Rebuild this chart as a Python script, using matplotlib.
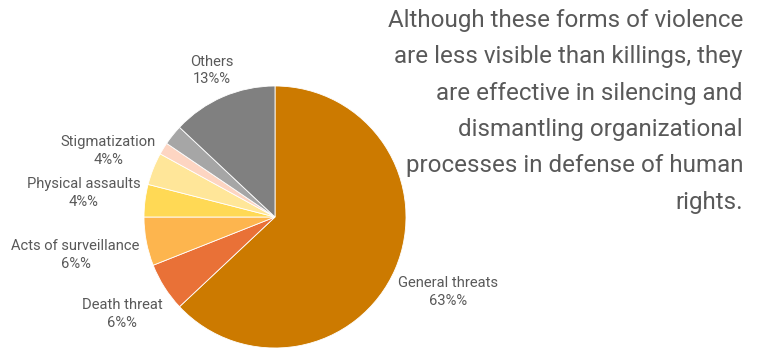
import matplotlib
matplotlib.use("Agg")
import matplotlib.pyplot as plt
import numpy as np

categories = ["General threats", "Death threat", "Acts of surveillance", "Physical assaults",
              "Stigmatization", "", "", "Others"]
values = [63, 6, 6, 4, 4, 1.5, 2.5, 13]
label_pct = ["63%%", "6%%", "6%%", "4%%", "4%%", "", "", "13%%"]
colors = ["#CC7A00", "#E97137", "#FDB54E", "#FFD955", "#FFE699", "#FDD5C2", "#A6A6A6", "#808080"]
label_dist = [1.44, 1.38, 1.55, 1.47, 1.37, 0, 0, 1.22]
note = ("Although these forms of violence\nare less visible than killings, they\n"
        "are effective in silencing and\ndismantling organizational\n"
        "processes in defense of human\nrights.")

W, H = 761, 354
cx, cy, R = 275, 217, 131
fig = plt.figure(figsize=(W / 100, H / 100), dpi=100)
ax = fig.add_axes([0, 0, 1, 1])
wedges, _ = ax.pie(values, colors=colors, startangle=90, counterclock=False,
                   wedgeprops=dict(edgecolor="white", linewidth=0.6))
ax.set_xlim(-cx / R, (W - cx) / R)
ax.set_ylim(-(H - cy) / R, cy / R)
ax.set_aspect("auto")
ax.axis("off")

font = "Roboto"
tc = "#595959"
for w, cat, pct, d in zip(wedges, categories, label_pct, label_dist):
    if not cat:
        continue
    ang = np.deg2rad((w.theta1 + w.theta2) / 2)
    ax.text(d * np.cos(ang), d * np.sin(ang), f"{cat}\n{pct}", ha="center", va="center",
            fontsize=10.6, color=tc, family=font, linespacing=1.3)

fig.text(743 / W, 1 - 9 / H, note, ha="right", va="top", fontsize=17.4, color=tc,
         family=font, linespacing=1.74, multialignment="right")

fig.savefig("out.png", dpi=100)
